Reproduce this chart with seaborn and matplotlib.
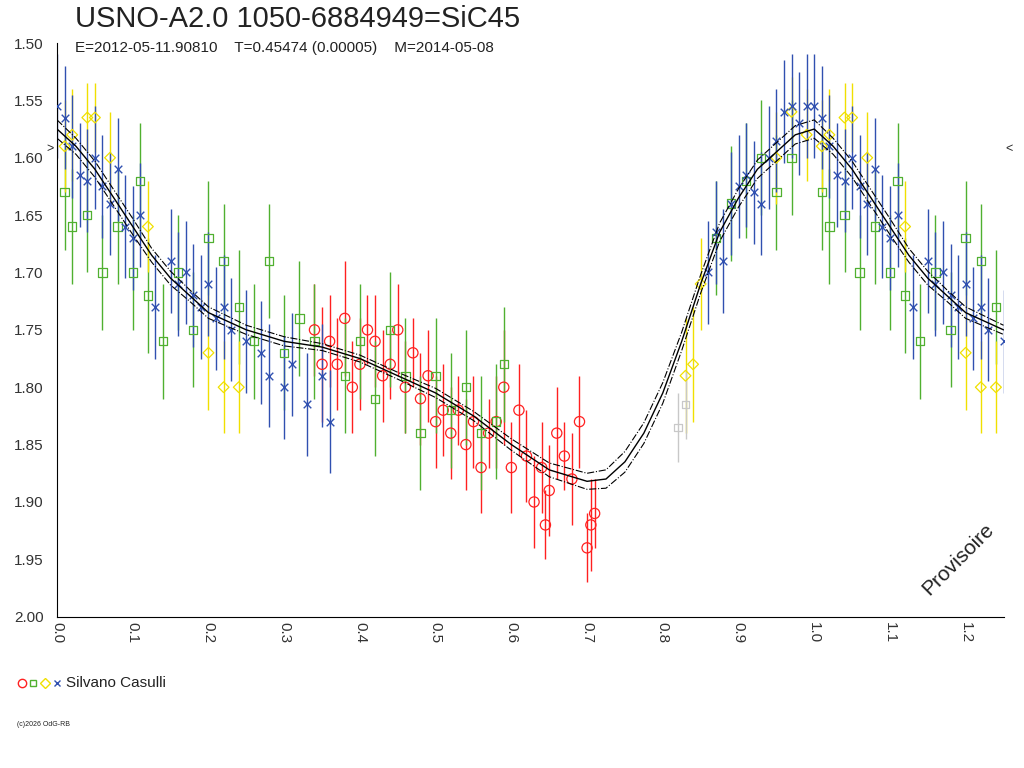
import numpy as np
import pandas as pd
import matplotlib
matplotlib.use("Agg")
import matplotlib.pyplot as plt
import seaborn as sns

sns.set_style("white")
plt.rcParams['font.family'] = ['Liberation Sans', 'DejaVu Sans']

# observations (phase, magnitude, error) per series
red_ph = [0.34, 0.35, 0.36, 0.37, 0.38, 0.39, 0.40, 0.41, 0.42, 0.43, 0.44, 0.45, 0.46, 0.47, 0.48, 0.49,
          0.50, 0.51, 0.52, 0.53, 0.54, 0.55, 0.56, 0.57, 0.58, 0.59, 0.60, 0.61, 0.62, 0.63, 0.64, 0.645,
          0.65, 0.66, 0.67, 0.68, 0.69, 0.70, 0.705, 0.71]
red_mag = [1.75, 1.78, 1.76, 1.78, 1.74, 1.80, 1.78, 1.75, 1.76, 1.79, 1.78, 1.75, 1.80, 1.77, 1.81, 1.79,
           1.83, 1.82, 1.84, 1.82, 1.85, 1.83, 1.87, 1.84, 1.83, 1.80, 1.87, 1.82, 1.86, 1.90, 1.87, 1.92,
           1.89, 1.84, 1.86, 1.88, 1.83, 1.94, 1.92, 1.91]
red_err = [0.04, 0.05, 0.04, 0.04, 0.05, 0.04, 0.04, 0.03, 0.04, 0.04, 0.03, 0.04, 0.04, 0.03, 0.04, 0.04,
           0.04, 0.04, 0.04, 0.03, 0.04, 0.04, 0.04, 0.03, 0.04, 0.05, 0.04, 0.04, 0.04, 0.04, 0.04, 0.03,
           0.04, 0.04, 0.03, 0.04, 0.04, 0.03, 0.04, 0.03]

green_ph = [0.01, 0.02, 0.04, 0.06, 0.08, 0.10, 0.11, 0.12, 0.14, 0.16, 0.18, 0.20, 0.22, 0.24, 0.26, 0.28,
            0.30, 0.32, 0.34, 0.38, 0.40, 0.42, 0.44, 0.46, 0.48, 0.50, 0.52, 0.54, 0.56, 0.58, 0.59,
            0.87, 0.89, 0.91, 0.93, 0.95, 0.97]
green_mag = [1.63, 1.66, 1.65, 1.70, 1.66, 1.70, 1.62, 1.72, 1.76, 1.70, 1.75, 1.67, 1.69, 1.73, 1.76, 1.69,
             1.77, 1.74, 1.76, 1.79, 1.76, 1.81, 1.75, 1.79, 1.84, 1.79, 1.82, 1.80, 1.84, 1.83, 1.78,
             1.67, 1.64, 1.62, 1.60, 1.63, 1.60]
green_err = [0.05] * len(green_ph)

yellow_ph = [0.01, 0.02, 0.04, 0.05, 0.07, 0.12, 0.20, 0.22, 0.24, 0.83, 0.84, 0.85, 0.95, 0.97, 0.99]
yellow_mag = [1.59, 1.58, 1.565, 1.565, 1.60, 1.66, 1.77, 1.80, 1.80, 1.79, 1.78, 1.71, 1.60, 1.56, 1.58]
yellow_err = [0.04, 0.04, 0.03, 0.03, 0.04, 0.04, 0.05, 0.04, 0.04, 0.05, 0.05, 0.04, 0.04, 0.03, 0.04]

blue_ph = [0.00, 0.01, 0.02, 0.03, 0.04, 0.05, 0.06, 0.07, 0.08, 0.09, 0.10, 0.11, 0.13, 0.15, 0.16, 0.17,
           0.18, 0.19, 0.20, 0.21, 0.22, 0.23, 0.25, 0.27, 0.28, 0.30, 0.31, 0.33, 0.35, 0.36,
           0.86, 0.87, 0.88, 0.89, 0.90, 0.91, 0.92, 0.93, 0.94, 0.95, 0.96, 0.97, 0.98, 0.99]
blue_mag = [1.555, 1.565, 1.59, 1.615, 1.62, 1.60, 1.625, 1.64, 1.61, 1.66, 1.67, 1.65, 1.73, 1.69, 1.71, 1.70,
            1.72, 1.73, 1.71, 1.74, 1.73, 1.75, 1.76, 1.77, 1.79, 1.80, 1.78, 1.815, 1.79, 1.83,
            1.70, 1.665, 1.69, 1.64, 1.625, 1.615, 1.63, 1.64, 1.60, 1.585, 1.56, 1.555, 1.57, 1.555]
blue_err = [0.045] * len(blue_ph)

grey_ph = [0.82, 0.83]
grey_mag = [1.835, 1.815]
grey_err = [0.03, 0.03]

# fitted mean curve and half-width of the dash-dot band
curve_ph = [0.0, 0.025, 0.05, 0.075, 0.1, 0.125, 0.15, 0.175, 0.2, 0.25, 0.3, 0.35, 0.4, 0.45, 0.5,
            0.55, 0.6, 0.65, 0.7, 0.725, 0.75, 0.775, 0.8, 0.825, 0.85, 0.875, 0.9, 0.925, 0.95, 0.975]
curve_mag = [1.575, 1.59, 1.61, 1.635, 1.66, 1.685, 1.705, 1.72, 1.735, 1.75, 1.76, 1.765, 1.775, 1.79, 1.805,
             1.825, 1.85, 1.872, 1.882, 1.88, 1.865, 1.84, 1.805, 1.76, 1.71, 1.665, 1.635, 1.61, 1.595, 1.58]
curve_band = [0.008, 0.007, 0.007, 0.007, 0.007, 0.006, 0.006, 0.005, 0.005, 0.004, 0.004, 0.003, 0.003, 0.003, 0.004,
              0.004, 0.005, 0.006, 0.007, 0.008, 0.009, 0.009, 0.009, 0.008, 0.008, 0.008, 0.008, 0.008, 0.008, 0.008]

series = [
    ("red", red_ph, red_mag, red_err, "o", "#ff2020", 9),
    ("green", green_ph, green_mag, green_err, "s", "#50b030", 6),
    ("yellow", yellow_ph, yellow_mag, yellow_err, "D", "#f0e000", 5),
    ("blue", blue_ph, blue_mag, blue_err, "x", "#3050b0", 5),
    ("grey", grey_ph, grey_mag, grey_err, "s", "#c8c8c8", 5),
]

fig = plt.figure(figsize=(10.24, 7.68), dpi=100)
ax = fig.add_axes([0.0557, 0.197, 0.9243, 0.747])

for name, ph, mag, err, mk, col, ms in series:
    df = pd.DataFrame({"phase": ph, "mag": mag, "err": err})
    dup = df[df.phase <= 0.25].copy()
    dup["phase"] = dup["phase"] + 1.0
    df = pd.concat([df, dup])
    ax.errorbar(df.phase, df.mag, yerr=df.err, fmt="none", ecolor=col, elinewidth=1, zorder=2)
    if mk == "x":
        sns.scatterplot(data=df, x="phase", y="mag", marker="x", s=ms * 6, color=col,
                        linewidth=1, ax=ax, zorder=3)
    else:
        sns.scatterplot(data=df, x="phase", y="mag", marker=mk, s=ms * 6, facecolor="none",
                        edgecolor=col, linewidth=0.9, ax=ax, zorder=3)

cdf = pd.DataFrame({"phase": curve_ph, "mag": curve_mag, "band": curve_band})
ext = pd.concat([cdf, cdf.assign(phase=cdf.phase + 1.0)])
ext = ext[ext.phase <= 1.26]
sns.lineplot(data=ext, x="phase", y="mag", color="black", lw=1, ax=ax, zorder=4)
ax.plot(ext.phase, ext.mag - ext.band, color="black", lw=0.8, ls="-.", zorder=4)
ax.plot(ext.phase, ext.mag + ext.band, color="black", lw=0.8, ls="-.", zorder=4)

ax.set_xlim(0, 1.25)
ax.set_ylim(2.0, 1.5)
yt = np.arange(1.5, 2.001, 0.05)
ax.set_yticks(yt)
ax.set_yticklabels([f"{v:.2f}" for v in yt], fontsize=11, color="#333333")
ax.set_xticks(np.arange(0, 1.251, 0.05), minor=True)
xt = np.arange(0, 1.21, 0.1)
ax.set_xticks(xt)
ax.set_xticklabels([f"{v:.1f}" for v in xt], rotation=270, fontsize=11, color="#333333")
ax.tick_params(axis="x", which="both", direction="in", length=7, color="black")
ax.tick_params(axis="y", direction="out", length=6, color="black")
ax.set_xlabel("")
ax.set_ylabel("")
for s in ["top", "right"]:
    ax.spines[s].set_visible(False)
for s in ["left", "bottom"]:
    ax.spines[s].set_color("black")

ax.text(-0.004, 1.592, ">", ha="right", va="center", fontsize=9)
ax.text(1.252, 1.592, "<", ha="left", va="center", fontsize=9, clip_on=False)
ax.text(1.19, 1.95, "Provisoire", rotation=45, fontsize=15, color="#222222", ha="center", va="center")

fig.text(0.073, 0.975, "USNO-A2.0 1050-6884949=SiC45", fontsize=21, color="#222222", va="center")
fig.text(0.073, 0.937, "E=2012-05-11.90810    T=0.45474 (0.00005)    M=2014-05-08",
         fontsize=11, color="#222222", va="center")

lx = 0.021
for mk, col in [("o", "#ff2020"), ("s", "#50b030"), ("D", "#f0e000"), ("x", "#3050b0")]:
    fig.lines.append(plt.Line2D([lx], [0.111], marker=mk, color=col, mfc="none", ms=6 if mk == "o" else 5,
                                transform=fig.transFigure, linestyle="none"))
    lx += 0.0115
fig.text(0.064, 0.111, "Silvano Casulli", fontsize=11, color="#222222", va="center")
fig.text(0.017, 0.057, "(c)2026 OdG-RB", fontsize=5, color="#222222", va="center")

fig.savefig("out.png", dpi=100)
